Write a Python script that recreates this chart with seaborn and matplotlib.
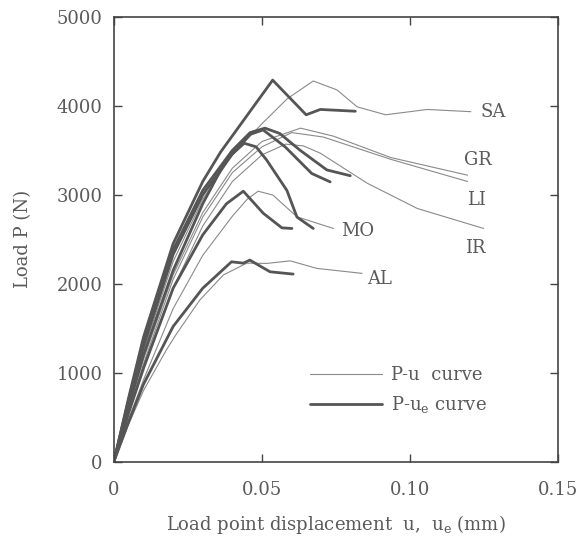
import pandas as pd
import matplotlib
matplotlib.use("Agg")
import matplotlib.pyplot as plt
import seaborn as sns

sns.set_style("ticks")
plt.rcParams["font.family"] = ["DejaVu Serif"]
plt.rcParams["mathtext.fontset"] = "dejavuserif"

# P-u curves (thin), displacement in mm, load in N
sa_u = [0, 0.005, 0.01, 0.02, 0.03, 0.04, 0.05, 0.0585, 0.0673, 0.0753, 0.0821, 0.0917, 0.1058, 0.1205]
sa_p = [0, 640, 1250, 2250, 2950, 3450, 3800, 4080, 4280, 4180, 3990, 3900, 3960, 3935]
gr_u = [0, 0.005, 0.01, 0.02, 0.03, 0.04, 0.05, 0.063, 0.0741, 0.0934, 0.1194]
gr_p = [0, 600, 1150, 2100, 2800, 3300, 3600, 3750, 3660, 3420, 3221]
li_u = [0, 0.005, 0.01, 0.02, 0.03, 0.04, 0.05, 0.06, 0.0707, 0.0934, 0.1194]
li_p = [0, 570, 1100, 2050, 2750, 3250, 3540, 3700, 3650, 3400, 3150]
ir_u = [0, 0.005, 0.01, 0.02, 0.03, 0.04, 0.05, 0.058, 0.064, 0.0697, 0.0855, 0.1024, 0.1248]
ir_p = [0, 550, 1050, 1950, 2650, 3150, 3450, 3570, 3550, 3468, 3131, 2847, 2622]
mo_u = [0, 0.005, 0.01, 0.02, 0.03, 0.04, 0.045, 0.0487, 0.0537, 0.0618, 0.0741]
mo_p = [0, 480, 920, 1720, 2320, 2760, 2950, 3041, 2997, 2753, 2622]
al_u = [0, 0.005, 0.01, 0.0177, 0.021, 0.029, 0.037, 0.0449, 0.0516, 0.0595, 0.0685, 0.0838]
al_p = [0, 420, 800, 1255, 1430, 1817, 2100, 2232, 2229, 2258, 2173, 2117]

# P-ue curves (thick)
sa_ue = [0, 0.005, 0.01, 0.02, 0.03, 0.036, 0.0536, 0.0649, 0.0697, 0.0815]
sa_pe = [0, 720, 1400, 2450, 3150, 3480, 4290, 3900, 3960, 3940]
gr_ue = [0, 0.005, 0.01, 0.02, 0.03, 0.04, 0.046, 0.051, 0.056, 0.0629, 0.0719, 0.0798]
gr_pe = [0, 700, 1350, 2380, 3050, 3500, 3700, 3750, 3690, 3500, 3280, 3215]
li_ue = [0, 0.005, 0.01, 0.02, 0.03, 0.04, 0.046, 0.0504, 0.0578, 0.0668, 0.073]
li_pe = [0, 670, 1300, 2330, 3000, 3460, 3680, 3730, 3540, 3240, 3146]
ir_ue = [0, 0.005, 0.01, 0.02, 0.03, 0.038, 0.044, 0.048, 0.0516, 0.0584, 0.0618, 0.0673]
ir_pe = [0, 620, 1200, 2150, 2900, 3400, 3580, 3540, 3390, 3050, 2750, 2622]
mo_ue = [0, 0.005, 0.01, 0.02, 0.03, 0.038, 0.0437, 0.0504, 0.0567, 0.0601]
mo_pe = [0, 550, 1050, 1950, 2550, 2900, 3041, 2794, 2629, 2622]
al_ue = [0, 0.005, 0.01, 0.02, 0.03, 0.0397, 0.0437, 0.0459, 0.0527, 0.0605]
al_pe = [0, 450, 870, 1520, 1950, 2247, 2232, 2266, 2135, 2109]

names = ["SA", "GR", "LI", "IR", "MO", "AL"]
thin = [(sa_u, sa_p), (gr_u, gr_p), (li_u, li_p), (ir_u, ir_p), (mo_u, mo_p), (al_u, al_p)]
thick = [(sa_ue, sa_pe), (gr_ue, gr_pe), (li_ue, li_pe), (ir_ue, ir_pe), (mo_ue, mo_pe), (al_ue, al_pe)]
label_x = [0.128, 0.123, 0.1225, 0.122, 0.0822, 0.0897]
label_y = [3930, 3390, 2940, 2400, 2590, 2050]

fig = plt.figure(figsize=(5.87, 5.47), dpi=100)
ax = fig.add_axes([0.194, 0.156, 0.757, 0.813])

gray = "#5a5a5a"
for i, name in enumerate(names):
    d = pd.DataFrame({"u": thin[i][0], "P": thin[i][1]})
    sns.lineplot(data=d, x="u", y="P", sort=False, estimator=None, ax=ax,
                 color="#8a8a8a", linewidth=0.8,
                 label="P-u  curve" if i == 0 else None)
for i, name in enumerate(names):
    d = pd.DataFrame({"u": thick[i][0], "P": thick[i][1]})
    sns.lineplot(data=d, x="u", y="P", sort=False, estimator=None, ax=ax,
                 color="#555555", linewidth=2.0,
                 label="P-u$_\\mathrm{e}$ curve" if i == 0 else None)
    ax.text(label_x[i], label_y[i], name, fontsize=13, color=gray,
            ha="center", va="center")

ax.set_xlim(0, 0.15)
ax.set_ylim(0, 5000)
ax.set_xticks([0, 0.05, 0.10, 0.15])
ax.set_xticklabels(["0", "0.05", "0.10", "0.15"])
ax.set_yticks([0, 1000, 2000, 3000, 4000, 5000])
ax.tick_params(direction="in", length=6, width=1, colors="#444444",
               labelcolor=gray, labelsize=13, top=True, right=True, pad=8)
ax.tick_params(axis="x", pad=14)
for s in ax.spines.values():
    s.set_color("#444444")
    s.set_linewidth(1.2)

ax.set_xlabel("Load point displacement  u,  u$_\\mathrm{e}$ (mm)", fontsize=13,
              color=gray, labelpad=10)
ax.set_ylabel("Load P (N)", fontsize=13, color=gray, labelpad=18)

leg = ax.legend(loc="lower left", bbox_to_anchor=(0.405, 0.068), frameon=False,
                fontsize=13, handlelength=4.0, handletextpad=0.5,
                labelspacing=0.55)
for t in leg.get_texts():
    t.set_color(gray)

fig.savefig("out.png", dpi=100)
